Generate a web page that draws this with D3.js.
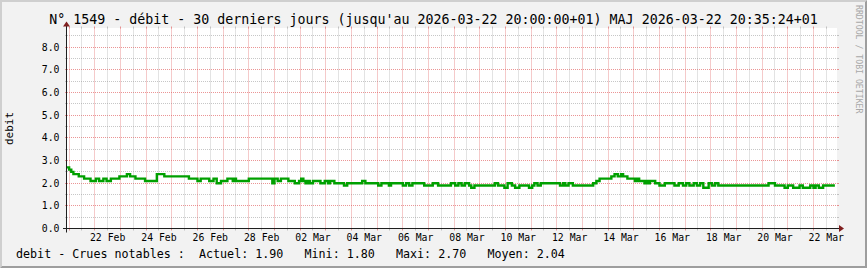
<!DOCTYPE html>
<html><head><meta charset="utf-8">
<script src="https://cdn.jsdelivr.net/npm/d3@7/dist/d3.min.js"></script>
<style>
body{margin:0;background:#f2f2f2}
svg{display:block}
text{font-family:"DejaVu Sans Mono",monospace}
</style>
</head><body>
<svg id="c" width="867" height="268"></svg>
<script>
// ---------- data ----------
const titleText = "N° 1549 - débit - 30 derniers jours (jusqu'au 2026-03-22 20:00:00+01) MAJ 2026-03-22 20:35:24+01";
const yAxisTitle = "debit";
const watermarkText = "RRDTOOL / TOBI OETIKER";
const legendLabel = "debit - Crues notables :";
const statNames = ["Actuel", "Mini", "Maxi", "Moyen"];
const statValues = [1.90, 1.80, 2.70, 2.04];
const yTickValues = [0, 1, 2, 3, 4, 5, 6, 7, 8];
const xLabelDates = ["2026-02-22","2026-02-24","2026-02-26","2026-02-28","2026-03-02","2026-03-04","2026-03-06","2026-03-08","2026-03-10","2026-03-12","2026-03-14","2026-03-16","2026-03-18","2026-03-20","2026-03-22"];
const timeStart = "2026-02-20T22:00:00Z";
const timeEnd = "2026-03-22T22:00:00Z";
// step series: hours since timeStart where the value changes, and the value from then on
const stepHours = [0,2,4,6,11,16,22,27,30,34,37,41,49,56,59,64,73,84,91,114,122,125,133,137,140,144,150,155,156,158,170,192,194,197,200,207,213,217,219,221,223,225,227,230,237,241,244,246,250,259,262,276,279,291,294,301,303,314,317,320,323,334,342,347,359,363,366,369,372,376,378,381,400,403,409,412,416,419,423,432,435,437,440,443,461,464,466,469,473,492,495,498,509,512,515,518,520,524,531,533,535,540,541,543,545,550,554,559,568,572,576,579,582,586,589,592,595,600,603,606,609,656,662,671,674,679,685,688,695,698,700,703,707];
const stepValues = [2.7,2.6,2.5,2.4,2.3,2.2,2.1,2.2,2.1,2.2,2.1,2.2,2.3,2.4,2.3,2.2,2.1,2.4,2.3,2.2,2.1,2.2,2.1,2.2,2.0,2.1,2.2,2.1,2.2,2.1,2.2,2.0,2.2,2.1,2.2,2.1,2.0,2.1,2.2,2.1,2.0,2.1,2.0,2.1,2.0,2.1,2.0,2.1,2.0,1.9,2.0,2.1,2.0,1.9,2.0,1.9,2.0,1.9,2.0,1.9,2.0,1.9,2.0,1.9,2.0,1.9,2.0,1.9,2.0,1.9,1.8,1.9,2.0,1.9,1.8,2.0,1.9,1.8,1.9,1.8,1.9,2.0,1.9,2.0,1.9,2.0,1.9,2.0,1.9,2.0,2.1,2.2,2.3,2.4,2.3,2.4,2.3,2.2,2.1,2.2,2.1,2.0,2.1,2.0,2.1,2.0,1.9,2.0,1.9,2.0,1.9,2.0,1.9,2.0,1.9,2.0,1.8,2.0,1.9,2.0,1.9,2.0,1.9,1.8,1.9,1.8,1.9,1.8,1.9,1.8,1.9,1.8,1.9];
const dataEndHour = 718;

// ---------- layout ----------
const W = 867, H = 268;
const X0 = 67, XS = 770, Y0 = 228.5, YS = 200;
const yMax = 8.83;

const svg = d3.select("#c");
const HOUR = 3600e3;
const t0 = new Date(timeStart), t1 = new Date(timeEnd);
const x = d3.scaleUtc().domain([t0, t1]).range([X0, X0 + XS]);
const y = d3.scaleLinear().domain([0, yMax]).range([Y0, Y0 - YS]);
const crisp = v => Math.round(v - 0.5) + 0.5;

// background + 3D frame
svg.append("rect").attr("width", W).attr("height", H).attr("fill", "#f2f2f2");
svg.append("path").attr("fill", "#cfcfcf")
  .attr("d", `M0,0H${W}L${W-2},2H2V${H-2}L0,${H}Z`);
svg.append("path").attr("fill", "#9e9e9e")
  .attr("d", `M${W},0V${H}H0L2,${H-2}H${W-2}V2Z`);

// canvas
svg.append("rect").attr("x", X0).attr("y", Y0 - YS - 0.5).attr("width", XS).attr("height", YS).attr("fill", "#fff");

const gGrid = svg.append("g");
const minorCol = "rgba(143,143,143,0.5)", majorCol = "rgba(222,79,79,0.6)";
// horizontal grid
const yMinor = d3.range(0.5, yMax, 1);
yMinor.forEach(v => {
  const yy = crisp(y(v));
  gGrid.append("line").attr("x1", X0).attr("x2", X0 + XS).attr("y1", yy).attr("y2", yy)
    .attr("stroke", minorCol).attr("stroke-dasharray", "1,1");
  gGrid.append("line").attr("x1", X0 - 2).attr("x2", X0).attr("y1", yy).attr("y2", yy).attr("stroke", minorCol);
  gGrid.append("line").attr("x1", X0 + XS).attr("x2", X0 + XS + 2).attr("y1", yy).attr("y2", yy).attr("stroke", minorCol);
});
yTickValues.forEach(v => {
  const yy = crisp(y(v));
  if (v > 0) gGrid.append("line").attr("x1", X0).attr("x2", X0 + XS).attr("y1", yy).attr("y2", yy)
    .attr("stroke", majorCol).attr("stroke-dasharray", "1,1");
  gGrid.append("line").attr("x1", X0 - 2).attr("x2", X0).attr("y1", yy).attr("y2", yy).attr("stroke", majorCol);
  gGrid.append("line").attr("x1", X0 + XS).attr("x2", X0 + XS + 2).attr("y1", yy).attr("y2", yy).attr("stroke", majorCol);
});
// vertical grid
const vTimes = d3.utcHour.every(12).range(t0, t1);
vTimes.forEach(t => {
  const major = t.getUTCHours() === 0;
  const col = major ? majorCol : minorCol;
  const xx = crisp(x(t));
  gGrid.append("line").attr("x1", xx).attr("x2", xx).attr("y1", Y0 - YS).attr("y2", Y0)
    .attr("stroke", col).attr("stroke-dasharray", "1,1");
  gGrid.append("line").attr("x1", xx).attr("x2", xx).attr("y1", Y0).attr("y2", Y0 + 2).attr("stroke", col);
  gGrid.append("line").attr("x1", xx).attr("x2", xx).attr("y1", Y0 - YS - 2).attr("y2", Y0 - YS).attr("stroke", col);
});

// data line
const pts = stepHours.map((h, i) => [new Date(+t0 + h * HOUR), stepValues[i]]);
pts.push([new Date(+t0 + dataEndHour * HOUR), stepValues[stepValues.length - 1]]);
const line = d3.line().x(d => x(d[0])).y(d => y(d[1])).curve(d3.curveStepAfter);
svg.append("path").datum(pts).attr("d", line).attr("fill", "none")
  .attr("stroke", "#00a000").attr("stroke-width", 2.4).attr("stroke-linejoin", "miter");

// axes
const axisCol = "#1f1f1f", arrowCol = "#801f1f";
svg.append("line").attr("x1", X0 - 4).attr("x2", X0 + XS + 4).attr("y1", Y0).attr("y2", Y0).attr("stroke", axisCol);
svg.append("line").attr("x1", X0 - 0.5).attr("x2", X0 - 0.5).attr("y1", Y0 + 4).attr("y2", Y0 - YS - 4).attr("stroke", axisCol);
svg.append("path").attr("fill", arrowCol)
  .attr("d", `M${X0 + XS + 2},${Y0 - 3.5}L${X0 + XS + 2},${Y0 + 3.5}L${X0 + XS + 7},${Y0}Z`);
svg.append("path").attr("fill", arrowCol)
  .attr("d", `M${X0 - 4},${Y0 - YS - 2}L${X0 + 3},${Y0 - YS - 2}L${X0 - 0.5},${Y0 - YS - 7}Z`);

// y labels
const fmtY = d3.format(".1f");
svg.append("g").selectAll("text").data(yTickValues).join("text")
  .attr("x", 59.5).attr("y", d => y(d)).attr("dy", "0.36em")
  .attr("text-anchor", "end").attr("font-size", "9.8px").attr("fill", "#000")
  .text(d => fmtY(d));

// x labels (centered on noon)
const fmtX = d3.utcFormat("%d %b");
svg.append("g").selectAll("text").data(xLabelDates.map(s => new Date(s + "T12:00:00Z"))).join("text")
  .attr("x", d => x(d)).attr("y", 241)
  .attr("text-anchor", "middle").attr("font-size", "9.8px").attr("fill", "#000")
  .text(d => fmtX(d));

// title
svg.append("text").attr("x", W / 2).attr("y", 24).attr("text-anchor", "middle")
  .attr("font-size", "13.3px").attr("fill", "#000").text(titleText);

// y axis title
svg.append("text").attr("transform", `translate(13,${Y0 - YS / 2}) rotate(-90)`)
  .attr("text-anchor", "middle").attr("font-size", "11px").attr("fill", "#000").text(yAxisTitle);

// watermark
svg.append("text").attr("transform", "translate(856,5) rotate(90)")
  .attr("font-size", "8.2px").attr("fill", "#a8a8a8").text(watermarkText);

// legend
const legendStr = legendLabel + "  " + statNames.map((n, i) => `${n}: ${statValues[i].toFixed(2)}`).join("   ");
svg.append("text").attr("x", 16).attr("y", 258).attr("font-size", "11.7px").attr("fill", "#000")
  .attr("xml:space", "preserve").style("white-space", "pre").text(legendStr);
</script>
</body></html>
